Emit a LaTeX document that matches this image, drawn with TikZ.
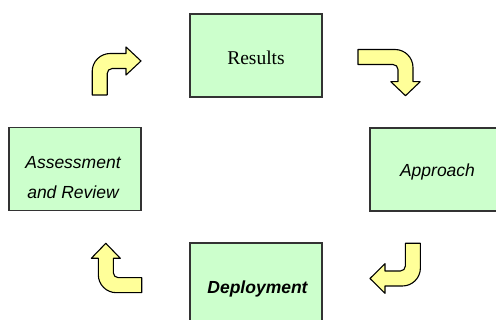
\documentclass[tikz,border=0pt]{standalone}
\usepackage{fontspec}
\setmainfont{Liberation Serif}
\setsansfont{Liberation Sans}
\definecolor{boxgreen}{HTML}{CCFFCC}
\definecolor{arrowyellow}{HTML}{FFFF99}
\definecolor{edgegray}{HTML}{333333}
\tikzset{
  stagebox/.style={draw=edgegray, line width=1.3pt, fill=boxgreen, rectangle,
    minimum width=132pt, minimum height=83pt, inner sep=0pt},
  arrowshape/.style={draw=black, line width=1.1pt, fill=arrowyellow, line join=round},
  seriflabel/.style={font=\fontsize{19.5}{22}\selectfont, anchor=base, inner sep=0pt},
  sanslabel/.style={font=\sffamily\itshape\fontsize{17.5}{30}\selectfont, anchor=base, inner sep=0pt, align=center},
}
% Bent block arrow: #1 corner of the centre lines, #2 head direction,
% #3 tail direction, #4 tail length, #5 head base, #6 tip, #7 head half width
\newcommand\bentarrow[7]{%
  \begin{scope}[shift={#1}, x={#2}, y={#3}]
    \draw[arrowshape] (-7.5,#4) -- (-7.5,10.5)
      .. controls (-7.5,0.56) and (0.56,-7.5) .. (10.5,-7.5)
      -- (#5,-7.5) -- (#5,-#7) -- (#6,0) -- (#5,#7) -- (#5,7.5)
      -- (12.5,7.5) .. controls (9.74,7.5) and (7.5,9.74) .. (7.5,12.5)
      -- (7.5,#4) -- cycle;
  \end{scope}}
\begin{document}
\begin{tikzpicture}[x=1pt, y=-1pt]
  \useasboundingbox (0,0) rectangle (496,320);
  \fill[white] (0,0) rectangle (496,320);
  \clip (0,0) rectangle (496,320);

  % stage boxes
  \node[stagebox] (results) at (256,55.5) {};
  \node[stagebox] (assess) at (75,169) {};
  \node[stagebox] (approach) at (436,169.5) {};
  \node[stagebox] (deploy) at (256,284.5) {};

  % stage labels (base anchor of a two-line node sits on its last line)
  \node[seriflabel] (resultsText) at (256,65) {Results};
  \node[sanslabel] (approachText) at (437.5,176.7) {Approach};
  \node[sanslabel] (assessText) at (73,198.3) {Assessment\\and Review};
  \node[sanslabel, font=\sffamily\bfseries\itshape\fontsize{17.5}{30}\selectfont] (deployText) at (257.5,293.3) {Deployment};

  % cycle arrows
  \bentarrow{(99.7,61)}{(1pt,0pt)}{(0pt,-1pt)}{34}{26.3}{41.3}{14}
  \bentarrow{(405.5,57)}{(0pt,-1pt)}{(-1pt,0pt)}{47.5}{24.7}{38.7}{14.7}
  \bentarrow{(412.9,278.5)}{(-1pt,0pt)}{(0pt,1pt)}{35.2}{27.9}{42.9}{14.8}
  \bentarrow{(105.8,285.2)}{(0pt,1pt)}{(1pt,0pt)}{35.9}{26.9}{41.9}{14.5}
\end{tikzpicture}
\end{document}
